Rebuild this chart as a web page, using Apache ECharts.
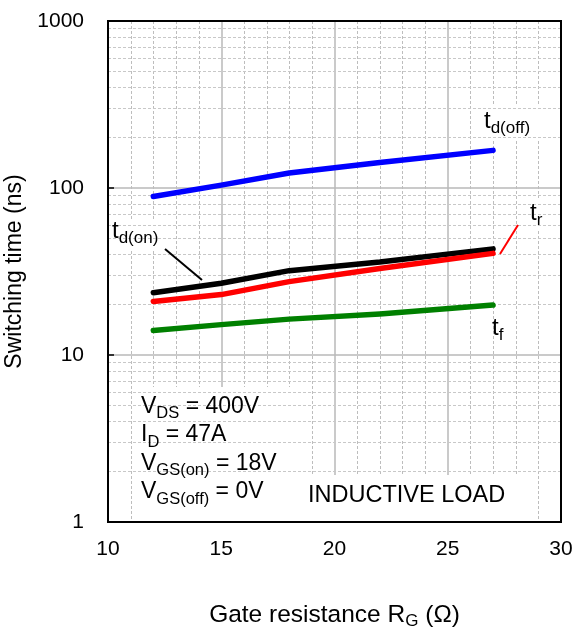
<!DOCTYPE html>
<html>
<head>
<meta charset="utf-8">
<script src="https://cdn.jsdelivr.net/npm/echarts@6/dist/echarts.min.js"></script>
<style>html,body{margin:0;padding:0;background:#fff;}#c{width:577px;height:628px;}</style>
</head>
<body>
<div id="c"></div>
<script>
const rg = [12, 15, 18, 22, 27];
const tdOff = [89, 104, 123, 142, 168];
const tdOn = [23.6, 26.9, 32.0, 36.0, 43.2];
const tr = [20.9, 23.0, 27.5, 33.0, 40.6];
const tf = [14.0, 15.2, 16.4, 17.6, 19.9];
const xTicks = [10, 15, 20, 25, 30];
const xMinor = [11,12,13,14,16,17,18,19,21,22,23,24,26,27,28,29];
const yTicks = [1, 10, 100, 1000];
const yMinor = [2,3,4,5,6,7,8,9,20,30,40,50,60,70,80,90,200,300,400,500,600,700,800,900];

const FONT = '"Liberation Sans", Arial, sans-serif';
const chart = echarts.init(document.getElementById('c'), null, {renderer: 'canvas'});

function pairs(ys) { return rg.map((x, i) => [x, ys[i]]); }
function line(name, ys, color, extra) {
  const s = {
    name, type: 'line', data: pairs(ys), symbol: 'none', smooth: false,
    lineStyle: {color, width: 5.5, cap: 'round', join: 'round'}, z: 5, silent: true
  };
  return Object.assign(s, extra || {});
}

const subRich = {
  m: {fontSize: 24.5, fontFamily: FONT, color: '#000'},
  s: {fontSize: 17, fontFamily: FONT, color: '#000', padding: [13, 0, 0, 0]}
};
function lab(main, sub, color) {
  return {
    text: '{m|' + main + '}{s|' + sub + '}', rich: {
      m: {fontSize: 24, fontFamily: FONT, color},
      s: {fontSize: 17, fontFamily: FONT, color, padding: [15, 0, 0, 0]}
    }
  };
}
const minorStyle = {color: '#c8c8c8', type: [3, 2], width: 1};

chart.setOption({
  animation: false,
  backgroundColor: '#fff',
  grid: {left: 108, right: 16, top: 21, bottom: 106, show: true, borderColor: '#000', borderWidth: 2,
    backgroundColor: 'transparent', z: 10, containLabel: false, outerBoundsMode: 'none'},
  xAxis: {
    type: 'value', min: 10, max: 30, interval: 5,
    axisLine: {show: true, lineStyle: {color: '#000', width: 2}},
    axisTick: {show: false},
    axisLabel: {fontSize: 21, fontFamily: FONT, color: '#000', margin: 17,
      formatter: v => xTicks.includes(v) ? String(v) : ''},
    splitLine: {show: true, lineStyle: {color: '#b8b8b8', width: 1.5}},
    name: '{m|Gate resistance R}{s|G}{m| (Ω)}',
    nameLocation: 'middle', nameGap: 78,
    nameTextStyle: {rich: subRich}
  },
  yAxis: {
    type: 'log', logBase: 10, min: 1, max: 1000,
    axisLine: {show: true, lineStyle: {color: '#000', width: 2}},
    axisTick: {show: true, inside: true, length: 6, lineStyle: {color: '#000', width: 1.5}},
    axisLabel: {fontSize: 21, fontFamily: FONT, color: '#000', margin: 24,
      formatter: v => yTicks.includes(Math.round(v)) ? String(Math.round(v)) : ''},
    splitLine: {show: true, lineStyle: {color: '#b8b8b8', width: 1.5}},
    name: 'Switching time (ns)', nameLocation: 'middle', nameGap: 76,
    nameTextStyle: {fontSize: 23, fontFamily: FONT, color: '#000'}
  },
  series: [
    {
      name: 'grid-minor-h', type: 'scatter', symbolSize: 0, silent: true, z: 1,
      data: [[20, 10]], itemStyle: {opacity: 0},
      markLine: {
        silent: true, symbol: 'none', label: {show: false}, animation: false,
        lineStyle: minorStyle,
        data: yMinor.map(v => ({yAxis: v}))
      }
    },
    {
      name: 'grid-minor-v', type: 'custom', silent: true, z: 2, clip: false,
      data: xMinor.map(v => [v]),
      renderItem: function (params, api) {
        const top = api.coord([api.value(0), yTicks[yTicks.length - 1]]);
        const bot = api.coord([api.value(0), yTicks[0]]);
        const x = Math.round(top[0]) + 0.5;
        return {
          type: 'line', silent: true,
          shape: {x1: x, y1: top[1], x2: x, y2: bot[1]},
          style: {stroke: '#bdbdbd', lineWidth: 1, lineDash: [3, 2], fill: null}
        };
      }
    },
    line('td(off)', tdOff, '#0000ff'),
    line('td(on)', tdOn, '#000000'),
    line('tr', tr, '#ff0000'),
    line('tf', tf, '#008000')
  ],
  graphic: [
    {type: 'rect', shape: {x: 133, y: 387, width: 171, height: 134}, style: {fill: '#fff'}, z: 3},
    {type: 'rect', shape: {x: 304, y: 475, width: 230, height: 46}, style: {fill: '#fff'}, z: 3},
    {type: 'text', left: 141, top: 391, z: 20, style: {
      text: '{m|V}{s|DS}{m| = 400V}\n{m|I}{s|D}{m| = 47A}\n{m|V}{s|GS(on)}{m| = 18V}\n{m|V}{s|GS(off)}{m| = 0V}',
      rich: {
        m: {fontSize: 23, fontFamily: FONT, color: '#000', lineHeight: 28.5, height: 28.5},
        s: {fontSize: 16.5, fontFamily: FONT, color: '#000', padding: [14, 0, 0, 0], lineHeight: 28.5}
      }
    }},
    {type: 'text', left: 308, top: 484, z: 20, style: {text: 'INDUCTIVE LOAD', fontSize: 23.5, fontFamily: FONT, fill: '#000'}},
    {type: 'rect', shape: {x: 478, y: 106, width: 64, height: 34}, style: {fill: '#fff'}, z: 3},
    {type: 'text', left: 484, top: 109, z: 20, style: lab('t', 'd(off)', '#0000ff')},
    {type: 'rect', shape: {x: 527, y: 198, width: 24, height: 32}, style: {fill: '#fff'}, z: 3},
    {type: 'text', left: 530, top: 201, z: 20, style: lab('t', 'r', '#ff0000')},
    {type: 'line', shape: {x1: 500, y1: 254, x2: 518, y2: 225}, style: {stroke: '#ff0000', lineWidth: 2}, z: 20},
    {type: 'rect', shape: {x: 108, y: 220, width: 58, height: 30}, style: {fill: '#fff'}, z: 3},
    {type: 'text', left: 112, top: 219, z: 20, style: lab('t', 'd(on)', '#000')},
    {type: 'line', shape: {x1: 165, y1: 249, x2: 202, y2: 280}, style: {stroke: '#000', lineWidth: 2}, z: 20},
    {type: 'text', left: 492, top: 316, z: 20, style: lab('t', 'f', '#008000')}
  ]
});
</script>
</body>
</html>
